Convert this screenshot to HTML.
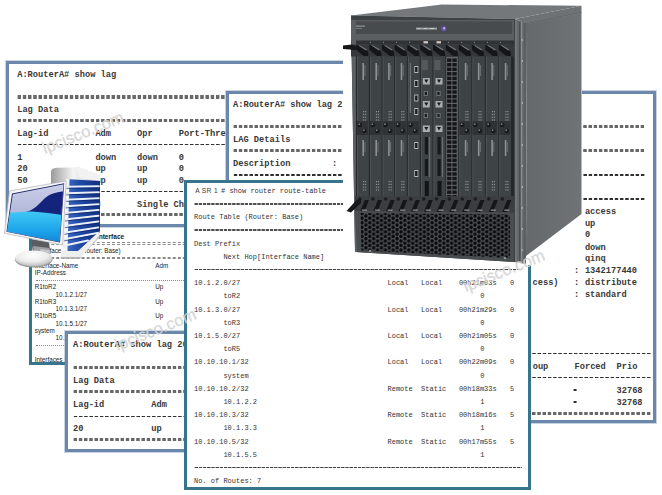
<!DOCTYPE html>
<html><head><meta charset="utf-8">
<style>
html,body{margin:0;padding:0;width:662px;height:495px;overflow:hidden;background:#fff}
body{position:relative}
.w{position:absolute;background:#fff;box-sizing:border-box;overflow:hidden}
.b1{border:3px solid #6b87ab;box-shadow:0 0 0 1px rgba(107,135,171,0.35)}
pre{margin:0;position:absolute;white-space:pre}
.m1{font-family:"Liberation Mono",monospace;font-size:8.7px;line-height:11.8px;color:#383838;font-weight:bold}
.m2{font-family:"Liberation Mono",monospace;font-size:8.7px;line-height:11.94px;color:#383838;font-weight:bold}
.m3{font-family:"Liberation Mono",monospace;font-size:7px;line-height:13.2px;color:#333}
.s{position:absolute;white-space:pre;font-family:"Liberation Sans",sans-serif;font-size:6.3px;line-height:7.24px;color:#222}
.a{position:absolute;white-space:pre}
.e1{display:inline-block;height:3.1px;vertical-align:2.1px;background:linear-gradient(90deg,#686868 0 3.8px,transparent 3.8px) 0.6px 0/5.22px 100% repeat-x}
.d1{display:inline-block;height:1.3px;vertical-align:2.5px;background:linear-gradient(90deg,#303030 0 3.6px,transparent 3.6px) 0.8px 0/5.22px 100% repeat-x}
.e3{display:inline-block;height:1.8px;vertical-align:1.4px;background:linear-gradient(90deg,#505050 0 3.2px,transparent 3.2px) 0.5px 0/4.2px 100% repeat-x}
.d3{display:inline-block;height:1px;vertical-align:2.4px;background:linear-gradient(90deg,#404040 0 3px,transparent 3px) 0.6px 0/4.2px 100% repeat-x}

.dd{position:absolute;height:0;border-top:1px dashed #777}
svg{position:absolute;left:0;top:0}
</style></head><body>

<!-- window 5 (sans small) -->
<div class="w" style="left:29px;top:215px;width:158px;height:150px;border:3px solid #37758c;">
<div class="s" style="left:64.8px;top:14.8px;font-weight:bold;font-size:6.6px">Interface</div>
<div style="position:absolute;left:3.5px;top:24.1px;width:160px;height:2.6px;border-top:1px dashed #8a8a8a;border-bottom:1px dashed #8a8a8a;box-sizing:border-box"></div>
<div class="s" style="left:4.8px;top:29.3px;">Interface Table (Router: Base)</div>
<div style="position:absolute;left:3.5px;top:38.9px;width:160px;height:2.6px;border-top:1px dashed #8a8a8a;border-bottom:1px dashed #8a8a8a;box-sizing:border-box"></div>
<div class="s" style="left:2.8px;top:43.8px;">Interface-Name</div>
<div class="s" style="left:123.3px;top:43.8px;">Adm</div>
<div class="s" style="left:2.8px;top:50.8px;">IP-Address</div>
<div style="position:absolute;left:3.5px;top:61.6px;width:160px;height:0;border-top:1px dotted #8a8a8a"></div>
<div class="s" style="left:2.8px;top:65.2px;">R1toR2</div>
<div class="s" style="left:123.3px;top:65.2px;">Up</div>
<div class="s" style="left:23.6px;top:72.5px;">10.1.2.1/27</div>
<div class="s" style="left:2.8px;top:79.9px;">R1toR3</div>
<div class="s" style="left:123.3px;top:79.9px;">Up</div>
<div class="s" style="left:23.6px;top:87.1px;">10.1.3.1/27</div>
<div class="s" style="left:2.8px;top:94.2px;">R1toR5</div>
<div class="s" style="left:123.3px;top:94.2px;">Up</div>
<div class="s" style="left:23.6px;top:101.5px;">10.1.5.1/27</div>
<div class="s" style="left:2.8px;top:108.7px;">system</div>
<div class="s" style="left:23.6px;top:116.0px;">10.10.10.1/32</div>
<div style="position:absolute;left:3.5px;top:126.5px;width:160px;height:0;border-top:1px dotted #8a8a8a"></div>
<div class="s" style="left:2.8px;top:137.7px;">Interfaces : 4</div>
</div>

<!-- window 1 -->
<div class="w b1" style="left:6px;top:61px;width:344px;height:166px;">
<pre class="m1" style="left:8.2px;top:6px">A:RouterA# show lag

<span class="e1" style="width:302.8px"></span>
Lag Data
<span class="e1" style="width:302.8px"></span>
Lag-id         Adm     Opr     Port-Threshold  Up-Link-Count
<span class="d1" style="width:302.8px"></span>
1              down    down    0               0
20             up      up      0               2
50             up      up      0               1
<span class="d1" style="width:302.8px"></span>
Total Lag-ids: 3       Single Chassis: 3   MC Act: 0
<span class="e1" style="width:302.8px"></span></pre>
</div>

<!-- window 2 -->
<div class="w b1" style="left:226px;top:91px;width:430px;height:332px;">
<pre class="m2" style="left:4px;top:5.5px">A:RouterA# show lag 2

<span class="e1" style="width:412.4px"></span>
LAG Details
<span class="e1" style="width:412.4px"></span>
Description        :
<span class="d1" style="width:412.4px"></span>
Details
<span class="d1" style="width:412.4px"></span></pre>
<pre class="m2" style="left:355.9px;top:113.1px">access</pre>
<pre class="m2" style="left:355.9px;top:124.9px">up</pre>
<pre class="m2" style="left:355.9px;top:136.4px">0</pre>
<pre class="m2" style="left:355.9px;top:148.7px">down</pre>
<pre class="m2" style="left:355.9px;top:160.4px">qinq</pre>
<pre class="m2" style="left:345.1px;top:172.0px">:</pre>
<pre class="m2" style="left:355.9px;top:172.0px">1342177440</pre>
<pre class="m2" style="left:303.5px;top:184.2px">cess)</pre>
<pre class="m2" style="left:345.1px;top:184.2px">:</pre>
<pre class="m2" style="left:355.9px;top:184.2px">distribute</pre>
<pre class="m2" style="left:345.1px;top:196.0px">:</pre>
<pre class="m2" style="left:355.9px;top:196.0px">standard</pre>
<pre class="m2" style="left:4.5px;top:255.8px"><span class="d1" style="width:417.6px"></span></pre>
<pre class="m2" style="left:303.7px;top:268.2px">oup</pre>
<pre class="m2" style="left:345.5px;top:268.2px">Forced</pre>
<pre class="m2" style="left:387.5px;top:268.2px">Prio</pre>
<pre class="m2" style="left:4.5px;top:279.6px"><span class="d1" style="width:417.6px"></span></pre>
<pre class="m2" style="left:344.2px;top:292.0px"><span class="d1" style="width:5.22px"></span></pre>
<pre class="m2" style="left:387.5px;top:292.0px">32768</pre>
<pre class="m2" style="left:344.2px;top:304.0px"><span class="d1" style="width:5.22px"></span></pre>
<pre class="m2" style="left:387.5px;top:304.0px">32768</pre>
<pre class="m2" style="left:4.5px;top:315.8px"><span class="e1" style="width:417.6px"></span></pre>
</div>

<!-- window 4 -->
<div class="w b1" style="left:65px;top:331px;width:140px;height:121px;">
<pre class="m2" style="left:5px;top:5.4px;line-height:12px">A:RouterA# show lag 20

<span class="e1" style="width:167.0px"></span>
Lag Data
<span class="e1" style="width:167.0px"></span>
Lag-id         Adm
<span class="d1" style="width:167.0px"></span>
20             up
<span class="e1" style="width:167.0px"></span></pre>
</div>

<!-- window 3 ASR1 -->
<div class="w" style="left:184px;top:180px;width:347px;height:310px;border:3px solid #37758c;">
<div class="a" style="left:8.3px;top:0.9px;font-family:'Liberation Sans',sans-serif;font-size:6.6px;line-height:13.2px;color:#3a3a3a;letter-spacing:0.35px">A SR 1</div>
<pre class="m3" style="left:34px;top:1.7px"># show router route-table</pre>
<pre class="m3" style="left:7px;top:1.7px"> 
<span class="e3" style="width:327.6px"></span>
Route Table (Router: Base)
<span class="e3" style="width:327.6px"></span>
Dest Prefix
       Next Hop[Interface Name]
<span class="d3" style="width:327.6px"></span>
10.1.2.0/27
       toR2
10.1.3.0/27
       toR3
10.1.5.0/27
       toR5
10.10.10.1/32
       system
10.10.10.2/32
       10.1.2.2
10.10.10.3/32
       10.1.3.3
10.10.10.5/32
       10.1.5.5
<span class="d3" style="width:327.6px"></span>
No. of Routes: 7</pre>
<pre class="m3" style="left:200.5px;top:94.1px">Local   Local    00h21m03s
           
Local   Local    00h21m29s
           
Local   Local    00h21m05s
           
Local   Local    00h22m09s
           
Remote  Static   00h18m33s
           
Remote  Static   00h18m16s
           
Remote  Static   00h17m55s</pre>
<pre class="m3" style="left:323px;top:94.1px">0

0

0

0

5

5

5</pre>
<pre class="m3" style="left:293.3px;top:107.3px">0

0

0

0

1

1

1</pre>
</div>

<svg width="662" height="495" viewBox="0 0 662 495">
<defs>
 <pattern id="hex" x="360" y="212.5" width="7.8" height="4.55" patternUnits="userSpaceOnUse">
  <rect width="7.8" height="4.55" fill="#505356"/>
  <circle cx="1.95" cy="1.14" r="1.72" fill="#08090a"/>
  <circle cx="5.85" cy="3.41" r="1.72" fill="#08090a"/>
  <circle cx="5.85" cy="-1.14" r="1.72" fill="#08090a"/>
  <circle cx="1.95" cy="5.69" r="1.72" fill="#08090a"/>
 </pattern>
 <linearGradient id="capG" x1="0" x2="1" y1="0" y2="0"><stop offset="0" stop-color="#9a9a9a"/><stop offset="0.45" stop-color="#f4f4f4"/><stop offset="1" stop-color="#c8c8c8"/></linearGradient>
 <linearGradient id="towB" x1="0" x2="1" y1="0" y2="0"><stop offset="0" stop-color="#3d68c2"/><stop offset="0.35" stop-color="#1f4aa6"/><stop offset="1" stop-color="#12307e"/></linearGradient>
 <linearGradient id="scrTop" x1="0" y1="0" x2="0" y2="1"><stop offset="0" stop-color="#cdd1ea"/><stop offset="1" stop-color="#959dcc"/></linearGradient>
 <linearGradient id="scrCy" x1="0" y1="0" x2="0" y2="1"><stop offset="0" stop-color="#40c8f6"/><stop offset="0.5" stop-color="#1ca4ea"/><stop offset="0.85" stop-color="#1280d4"/><stop offset="1" stop-color="#0a56b0"/></linearGradient>
 <radialGradient id="baseG" cx="0.45" cy="0.3" r="0.7"><stop offset="0" stop-color="#ffffff"/><stop offset="0.6" stop-color="#ececec"/><stop offset="1" stop-color="#bcbcbc"/></radialGradient>
 <clipPath id="scr"><polygon points="12.8,194.3 63.6,184.2 59.4,241.7 7.2,231.4"/></clipPath>
</defs>

<!-- ROUTER -->
<rect x="343" y="0" width="239" height="265" fill="#fff"/>
<polygon points="351,15.5 442,4.5 581.5,5.8 515,19" fill="#74787b"/>
<polygon points="351,15.5 515,19 515,21.3 351,19.8" fill="#7f8386"/>
<polygon points="515,19 581.5,5.8 581.5,12.5 527,24" fill="#6e7275"/>
<polyline points="514,19.5 527,24 581.5,12.5" fill="none" stroke="#4a4e51" stroke-width="0.8"/>
<defs><linearGradient id="sideG" x1="0" x2="1" y1="0" y2="0"><stop offset="0" stop-color="#65696c"/><stop offset="1" stop-color="#6f7376"/></linearGradient></defs>
<polygon points="527,24 581.5,12.5 581.5,214 526,256" fill="url(#sideG)"/>
<polygon points="514,19 527,24 526,264 514,262" fill="#63676a"/>
<rect x="515.5" y="21" width="1" height="241" fill="#808487"/>
<rect x="519" y="22" width="1.3" height="240" fill="#4a4e51"/>
<rect x="521" y="22" width="1.2" height="240" fill="#8a8e91"/>
<rect x="524.5" y="23" width="1" height="239" fill="#55595c"/>
<circle cx="522.3" cy="40" r="0.8" fill="#c4c8cb"/>
<circle cx="522.3" cy="61" r="0.8" fill="#c4c8cb"/>
<circle cx="522.3" cy="82" r="0.8" fill="#c4c8cb"/>
<circle cx="522.3" cy="103" r="0.8" fill="#c4c8cb"/>
<circle cx="522.3" cy="124" r="0.8" fill="#c4c8cb"/>
<circle cx="522.3" cy="145" r="0.8" fill="#c4c8cb"/>
<circle cx="522.3" cy="166" r="0.8" fill="#c4c8cb"/>
<circle cx="522.3" cy="187" r="0.8" fill="#c4c8cb"/>
<circle cx="522.3" cy="208" r="0.8" fill="#c4c8cb"/>
<circle cx="522.3" cy="229" r="0.8" fill="#c4c8cb"/>
<circle cx="522.3" cy="250" r="0.8" fill="#c4c8cb"/>
<polygon points="351,15.5 515,19 515,262 355,252" fill="#3d4244"/>
<rect x="351" y="20" width="163" height="21" fill="#585c5f"/>
<rect x="353" y="21.5" width="159" height="12.5" fill="#474b4e"/>
<rect x="356" y="25.5" width="9" height="1.3" fill="#8e9295"/>
<rect x="356" y="28" width="6" height="0.7" fill="#868a8d"/>
<rect x="416" y="27.6" width="21" height="2" fill="#9fa3a7"/><rect x="418" y="28.2" width="2" height="0.8" fill="#d0d3d6"/><rect x="424" y="28.2" width="3" height="0.8" fill="#d0d3d6"/><rect x="430" y="28.2" width="4" height="0.8" fill="#d0d3d6"/>
<circle cx="443.8" cy="28.6" r="2.6" fill="#6a52ae"/>
<circle cx="444.2" cy="28.3" r="1.1" fill="#c8c0ea"/>
<rect x="351" y="34" width="163" height="6.5" fill="#5b5f62"/>
<rect x="351" y="40.5" width="163" height="4" fill="#303335"/>
<rect x="423.5" y="41.2" width="4.5" height="2.2" fill="#d9c7c2"/>
<rect x="436.5" y="41.2" width="4.5" height="2.2" fill="#d9c7c2"/>
<rect x="370" y="41.8" width="1" height="1" fill="#8a8e91"/>
<rect x="383" y="41.8" width="1" height="1" fill="#8a8e91"/>
<rect x="396" y="41.8" width="1" height="1" fill="#8a8e91"/>
<rect x="409" y="41.8" width="1" height="1" fill="#8a8e91"/>
<rect x="448" y="41.8" width="1" height="1" fill="#8a8e91"/>
<rect x="461" y="41.8" width="1" height="1" fill="#8a8e91"/>
<rect x="474" y="41.8" width="1" height="1" fill="#8a8e91"/>
<rect x="487" y="41.8" width="1" height="1" fill="#8a8e91"/>
<rect x="500" y="41.8" width="1" height="1" fill="#8a8e91"/>
<polygon points="351,19.8 355.8,20 357.5,252 355,252" fill="#5c6063"/>
<rect x="356" y="44.5" width="158" height="153" fill="#3e4346"/>
<rect x="355.9" y="44.5" width="1.1" height="153" fill="#25282a"/>
<rect x="357.0" y="44.5" width="0.8" height="153" fill="#53575a"/>
<rect x="368.9" y="44.5" width="1.1" height="153" fill="#25282a"/>
<rect x="370.0" y="44.5" width="0.8" height="153" fill="#53575a"/>
<rect x="381.6" y="44.5" width="1.1" height="153" fill="#25282a"/>
<rect x="382.7" y="44.5" width="0.8" height="153" fill="#53575a"/>
<rect x="394.2" y="44.5" width="1.1" height="153" fill="#25282a"/>
<rect x="395.3" y="44.5" width="0.8" height="153" fill="#53575a"/>
<rect x="406.8" y="44.5" width="1.1" height="153" fill="#25282a"/>
<rect x="407.9" y="44.5" width="0.8" height="153" fill="#53575a"/>
<rect x="419.8" y="44.5" width="1.1" height="153" fill="#25282a"/>
<rect x="420.9" y="44.5" width="0.8" height="153" fill="#53575a"/>
<rect x="432.5" y="44.5" width="1.1" height="153" fill="#25282a"/>
<rect x="433.6" y="44.5" width="0.8" height="153" fill="#53575a"/>
<rect x="445.3" y="44.5" width="1.1" height="153" fill="#25282a"/>
<rect x="446.4" y="44.5" width="0.8" height="153" fill="#53575a"/>
<rect x="458.3" y="44.5" width="1.1" height="153" fill="#25282a"/>
<rect x="459.4" y="44.5" width="0.8" height="153" fill="#53575a"/>
<rect x="471.4" y="44.5" width="1.1" height="153" fill="#25282a"/>
<rect x="472.5" y="44.5" width="0.8" height="153" fill="#53575a"/>
<rect x="484.8" y="44.5" width="1.1" height="153" fill="#25282a"/>
<rect x="485.9" y="44.5" width="0.8" height="153" fill="#53575a"/>
<rect x="498.3" y="44.5" width="1.1" height="153" fill="#25282a"/>
<rect x="499.4" y="44.5" width="0.8" height="153" fill="#53575a"/>
<rect x="511.0" y="44.5" width="3.0" height="153" fill="#25282a"/>
<rect x="351" y="44.5" width="163" height="12" fill="#36393c"/>
<path d="M343,45.5 L352,44.5 L357,47 L356,50 L343,49 Z" fill="#151719"/>
<path d="M356.4,45 L360.9,45 L368.4,52 L368.4,56 L363.9,56 L356.4,50 Z" fill="#141618"/>
<path d="M357.9,45.3 L360.4,45.3 L366.9,49.5 L365.9,50.5 Z" fill="#707478"/>
<path d="M369.4,45 L373.9,45 L381.4,52 L381.4,56 L376.9,56 L369.4,50 Z" fill="#141618"/>
<path d="M370.9,45.3 L373.4,45.3 L379.9,49.5 L378.9,50.5 Z" fill="#707478"/>
<path d="M382.1,45 L386.6,45 L394.1,52 L394.1,56 L389.6,56 L382.1,50 Z" fill="#141618"/>
<path d="M383.6,45.3 L386.1,45.3 L392.6,49.5 L391.6,50.5 Z" fill="#707478"/>
<path d="M394.7,45 L399.2,45 L406.7,52 L406.7,56 L402.2,56 L394.7,50 Z" fill="#141618"/>
<path d="M396.2,45.3 L398.7,45.3 L405.2,49.5 L404.2,50.5 Z" fill="#707478"/>
<path d="M407.3,45 L411.8,45 L419.3,52 L419.3,56 L414.8,56 L407.3,50 Z" fill="#141618"/>
<path d="M408.8,45.3 L411.3,45.3 L417.8,49.5 L416.8,50.5 Z" fill="#707478"/>
<path d="M420.3,45 L424.8,45 L432.3,52 L432.3,56 L427.8,56 L420.3,50 Z" fill="#141618"/>
<path d="M421.8,45.3 L424.3,45.3 L430.8,49.5 L429.8,50.5 Z" fill="#707478"/>
<path d="M433.0,45 L437.5,45 L445.0,52 L445.0,56 L440.5,56 L433.0,50 Z" fill="#141618"/>
<path d="M434.5,45.3 L437.0,45.3 L443.5,49.5 L442.5,50.5 Z" fill="#707478"/>
<path d="M445.8,45 L450.3,45 L457.8,52 L457.8,56 L453.3,56 L445.8,50 Z" fill="#141618"/>
<path d="M447.3,45.3 L449.8,45.3 L456.3,49.5 L455.3,50.5 Z" fill="#707478"/>
<path d="M458.8,45 L463.3,45 L470.8,52 L470.8,56 L466.3,56 L458.8,50 Z" fill="#141618"/>
<path d="M460.3,45.3 L462.8,45.3 L469.3,49.5 L468.3,50.5 Z" fill="#707478"/>
<path d="M471.9,45 L476.4,45 L483.9,52 L483.9,56 L479.4,56 L471.9,50 Z" fill="#141618"/>
<path d="M473.4,45.3 L475.9,45.3 L482.4,49.5 L481.4,50.5 Z" fill="#707478"/>
<path d="M485.3,45 L489.8,45 L497.3,52 L497.3,56 L492.8,56 L485.3,50 Z" fill="#141618"/>
<path d="M486.8,45.3 L489.3,45.3 L495.8,49.5 L494.8,50.5 Z" fill="#707478"/>
<path d="M498.8,45 L503.3,45 L510.8,52 L510.8,56 L506.3,56 L498.8,50 Z" fill="#141618"/>
<path d="M500.3,45.3 L502.8,45.3 L509.3,49.5 L508.3,50.5 Z" fill="#707478"/>
<rect x="362.4" y="63" width="1.6" height="17" fill="#8d9194"/>
<rect x="364.5" y="65" width="0.9" height="11" fill="#6e7275"/>
<rect x="362.4" y="140" width="1.6" height="16" fill="#8d9194"/>
<rect x="364.5" y="142" width="0.9" height="10" fill="#6e7275"/>
<rect x="362.9" y="111.0" width="1.2" height="1.2" fill="#8c9094"/>
<rect x="364.9" y="111.0" width="1.2" height="1.2" fill="#8c9094"/>
<rect x="362.9" y="113.8" width="1.2" height="1.2" fill="#8c9094"/>
<rect x="364.9" y="113.8" width="1.2" height="1.2" fill="#8c9094"/>
<rect x="362.9" y="116.6" width="1.2" height="1.2" fill="#8c9094"/>
<rect x="364.9" y="116.6" width="1.2" height="1.2" fill="#8c9094"/>
<rect x="362.9" y="119.4" width="1.2" height="1.2" fill="#8c9094"/>
<rect x="364.9" y="119.4" width="1.2" height="1.2" fill="#8c9094"/>
<rect x="362.9" y="181.0" width="1.2" height="1.2" fill="#8c9094"/>
<rect x="364.9" y="181.0" width="1.2" height="1.2" fill="#8c9094"/>
<rect x="362.9" y="183.8" width="1.2" height="1.2" fill="#8c9094"/>
<rect x="364.9" y="183.8" width="1.2" height="1.2" fill="#8c9094"/>
<rect x="362.9" y="186.6" width="1.2" height="1.2" fill="#8c9094"/>
<rect x="364.9" y="186.6" width="1.2" height="1.2" fill="#8c9094"/>
<rect x="362.9" y="189.4" width="1.2" height="1.2" fill="#8c9094"/>
<rect x="364.9" y="189.4" width="1.2" height="1.2" fill="#8c9094"/>
<rect x="375.4" y="63" width="1.6" height="17" fill="#8d9194"/>
<rect x="377.5" y="65" width="0.9" height="11" fill="#6e7275"/>
<rect x="375.4" y="140" width="1.6" height="16" fill="#8d9194"/>
<rect x="377.5" y="142" width="0.9" height="10" fill="#6e7275"/>
<rect x="375.9" y="111.0" width="1.2" height="1.2" fill="#8c9094"/>
<rect x="377.9" y="111.0" width="1.2" height="1.2" fill="#8c9094"/>
<rect x="375.9" y="113.8" width="1.2" height="1.2" fill="#8c9094"/>
<rect x="377.9" y="113.8" width="1.2" height="1.2" fill="#8c9094"/>
<rect x="375.9" y="116.6" width="1.2" height="1.2" fill="#8c9094"/>
<rect x="377.9" y="116.6" width="1.2" height="1.2" fill="#8c9094"/>
<rect x="375.9" y="119.4" width="1.2" height="1.2" fill="#8c9094"/>
<rect x="377.9" y="119.4" width="1.2" height="1.2" fill="#8c9094"/>
<rect x="375.9" y="181.0" width="1.2" height="1.2" fill="#8c9094"/>
<rect x="377.9" y="181.0" width="1.2" height="1.2" fill="#8c9094"/>
<rect x="375.9" y="183.8" width="1.2" height="1.2" fill="#8c9094"/>
<rect x="377.9" y="183.8" width="1.2" height="1.2" fill="#8c9094"/>
<rect x="375.9" y="186.6" width="1.2" height="1.2" fill="#8c9094"/>
<rect x="377.9" y="186.6" width="1.2" height="1.2" fill="#8c9094"/>
<rect x="375.9" y="189.4" width="1.2" height="1.2" fill="#8c9094"/>
<rect x="377.9" y="189.4" width="1.2" height="1.2" fill="#8c9094"/>
<rect x="388.1" y="63" width="1.6" height="17" fill="#8d9194"/>
<rect x="390.2" y="65" width="0.9" height="11" fill="#6e7275"/>
<rect x="388.1" y="140" width="1.6" height="16" fill="#8d9194"/>
<rect x="390.2" y="142" width="0.9" height="10" fill="#6e7275"/>
<rect x="388.6" y="111.0" width="1.2" height="1.2" fill="#8c9094"/>
<rect x="390.6" y="111.0" width="1.2" height="1.2" fill="#8c9094"/>
<rect x="388.6" y="113.8" width="1.2" height="1.2" fill="#8c9094"/>
<rect x="390.6" y="113.8" width="1.2" height="1.2" fill="#8c9094"/>
<rect x="388.6" y="116.6" width="1.2" height="1.2" fill="#8c9094"/>
<rect x="390.6" y="116.6" width="1.2" height="1.2" fill="#8c9094"/>
<rect x="388.6" y="119.4" width="1.2" height="1.2" fill="#8c9094"/>
<rect x="390.6" y="119.4" width="1.2" height="1.2" fill="#8c9094"/>
<rect x="388.6" y="181.0" width="1.2" height="1.2" fill="#8c9094"/>
<rect x="390.6" y="181.0" width="1.2" height="1.2" fill="#8c9094"/>
<rect x="388.6" y="183.8" width="1.2" height="1.2" fill="#8c9094"/>
<rect x="390.6" y="183.8" width="1.2" height="1.2" fill="#8c9094"/>
<rect x="388.6" y="186.6" width="1.2" height="1.2" fill="#8c9094"/>
<rect x="390.6" y="186.6" width="1.2" height="1.2" fill="#8c9094"/>
<rect x="388.6" y="189.4" width="1.2" height="1.2" fill="#8c9094"/>
<rect x="390.6" y="189.4" width="1.2" height="1.2" fill="#8c9094"/>
<rect x="400.7" y="63" width="1.6" height="17" fill="#8d9194"/>
<rect x="402.8" y="65" width="0.9" height="11" fill="#6e7275"/>
<rect x="400.7" y="140" width="1.6" height="16" fill="#8d9194"/>
<rect x="402.8" y="142" width="0.9" height="10" fill="#6e7275"/>
<rect x="401.2" y="111.0" width="1.2" height="1.2" fill="#8c9094"/>
<rect x="403.2" y="111.0" width="1.2" height="1.2" fill="#8c9094"/>
<rect x="401.2" y="113.8" width="1.2" height="1.2" fill="#8c9094"/>
<rect x="403.2" y="113.8" width="1.2" height="1.2" fill="#8c9094"/>
<rect x="401.2" y="116.6" width="1.2" height="1.2" fill="#8c9094"/>
<rect x="403.2" y="116.6" width="1.2" height="1.2" fill="#8c9094"/>
<rect x="401.2" y="119.4" width="1.2" height="1.2" fill="#8c9094"/>
<rect x="403.2" y="119.4" width="1.2" height="1.2" fill="#8c9094"/>
<rect x="401.2" y="181.0" width="1.2" height="1.2" fill="#8c9094"/>
<rect x="403.2" y="181.0" width="1.2" height="1.2" fill="#8c9094"/>
<rect x="401.2" y="183.8" width="1.2" height="1.2" fill="#8c9094"/>
<rect x="403.2" y="183.8" width="1.2" height="1.2" fill="#8c9094"/>
<rect x="401.2" y="186.6" width="1.2" height="1.2" fill="#8c9094"/>
<rect x="403.2" y="186.6" width="1.2" height="1.2" fill="#8c9094"/>
<rect x="401.2" y="189.4" width="1.2" height="1.2" fill="#8c9094"/>
<rect x="403.2" y="189.4" width="1.2" height="1.2" fill="#8c9094"/>
<rect x="464.8" y="63" width="1.6" height="17" fill="#8d9194"/>
<rect x="466.9" y="65" width="0.9" height="11" fill="#6e7275"/>
<rect x="464.8" y="140" width="1.6" height="16" fill="#8d9194"/>
<rect x="466.9" y="142" width="0.9" height="10" fill="#6e7275"/>
<rect x="465.3" y="111.0" width="1.2" height="1.2" fill="#8c9094"/>
<rect x="467.3" y="111.0" width="1.2" height="1.2" fill="#8c9094"/>
<rect x="465.3" y="113.8" width="1.2" height="1.2" fill="#8c9094"/>
<rect x="467.3" y="113.8" width="1.2" height="1.2" fill="#8c9094"/>
<rect x="465.3" y="116.6" width="1.2" height="1.2" fill="#8c9094"/>
<rect x="467.3" y="116.6" width="1.2" height="1.2" fill="#8c9094"/>
<rect x="465.3" y="119.4" width="1.2" height="1.2" fill="#8c9094"/>
<rect x="467.3" y="119.4" width="1.2" height="1.2" fill="#8c9094"/>
<rect x="465.3" y="181.0" width="1.2" height="1.2" fill="#8c9094"/>
<rect x="467.3" y="181.0" width="1.2" height="1.2" fill="#8c9094"/>
<rect x="465.3" y="183.8" width="1.2" height="1.2" fill="#8c9094"/>
<rect x="467.3" y="183.8" width="1.2" height="1.2" fill="#8c9094"/>
<rect x="465.3" y="186.6" width="1.2" height="1.2" fill="#8c9094"/>
<rect x="467.3" y="186.6" width="1.2" height="1.2" fill="#8c9094"/>
<rect x="465.3" y="189.4" width="1.2" height="1.2" fill="#8c9094"/>
<rect x="467.3" y="189.4" width="1.2" height="1.2" fill="#8c9094"/>
<rect x="477.9" y="63" width="1.6" height="17" fill="#8d9194"/>
<rect x="480.0" y="65" width="0.9" height="11" fill="#6e7275"/>
<rect x="477.9" y="140" width="1.6" height="16" fill="#8d9194"/>
<rect x="480.0" y="142" width="0.9" height="10" fill="#6e7275"/>
<rect x="478.4" y="111.0" width="1.2" height="1.2" fill="#8c9094"/>
<rect x="480.4" y="111.0" width="1.2" height="1.2" fill="#8c9094"/>
<rect x="478.4" y="113.8" width="1.2" height="1.2" fill="#8c9094"/>
<rect x="480.4" y="113.8" width="1.2" height="1.2" fill="#8c9094"/>
<rect x="478.4" y="116.6" width="1.2" height="1.2" fill="#8c9094"/>
<rect x="480.4" y="116.6" width="1.2" height="1.2" fill="#8c9094"/>
<rect x="478.4" y="119.4" width="1.2" height="1.2" fill="#8c9094"/>
<rect x="480.4" y="119.4" width="1.2" height="1.2" fill="#8c9094"/>
<rect x="478.4" y="181.0" width="1.2" height="1.2" fill="#8c9094"/>
<rect x="480.4" y="181.0" width="1.2" height="1.2" fill="#8c9094"/>
<rect x="478.4" y="183.8" width="1.2" height="1.2" fill="#8c9094"/>
<rect x="480.4" y="183.8" width="1.2" height="1.2" fill="#8c9094"/>
<rect x="478.4" y="186.6" width="1.2" height="1.2" fill="#8c9094"/>
<rect x="480.4" y="186.6" width="1.2" height="1.2" fill="#8c9094"/>
<rect x="478.4" y="189.4" width="1.2" height="1.2" fill="#8c9094"/>
<rect x="480.4" y="189.4" width="1.2" height="1.2" fill="#8c9094"/>
<rect x="491.3" y="63" width="1.6" height="17" fill="#8d9194"/>
<rect x="493.4" y="65" width="0.9" height="11" fill="#6e7275"/>
<rect x="491.3" y="140" width="1.6" height="16" fill="#8d9194"/>
<rect x="493.4" y="142" width="0.9" height="10" fill="#6e7275"/>
<rect x="491.8" y="111.0" width="1.2" height="1.2" fill="#8c9094"/>
<rect x="493.8" y="111.0" width="1.2" height="1.2" fill="#8c9094"/>
<rect x="491.8" y="113.8" width="1.2" height="1.2" fill="#8c9094"/>
<rect x="493.8" y="113.8" width="1.2" height="1.2" fill="#8c9094"/>
<rect x="491.8" y="116.6" width="1.2" height="1.2" fill="#8c9094"/>
<rect x="493.8" y="116.6" width="1.2" height="1.2" fill="#8c9094"/>
<rect x="491.8" y="119.4" width="1.2" height="1.2" fill="#8c9094"/>
<rect x="493.8" y="119.4" width="1.2" height="1.2" fill="#8c9094"/>
<rect x="491.8" y="181.0" width="1.2" height="1.2" fill="#8c9094"/>
<rect x="493.8" y="181.0" width="1.2" height="1.2" fill="#8c9094"/>
<rect x="491.8" y="183.8" width="1.2" height="1.2" fill="#8c9094"/>
<rect x="493.8" y="183.8" width="1.2" height="1.2" fill="#8c9094"/>
<rect x="491.8" y="186.6" width="1.2" height="1.2" fill="#8c9094"/>
<rect x="493.8" y="186.6" width="1.2" height="1.2" fill="#8c9094"/>
<rect x="491.8" y="189.4" width="1.2" height="1.2" fill="#8c9094"/>
<rect x="493.8" y="189.4" width="1.2" height="1.2" fill="#8c9094"/>
<rect x="504.8" y="63" width="1.6" height="17" fill="#8d9194"/>
<rect x="506.9" y="65" width="0.9" height="11" fill="#6e7275"/>
<rect x="504.8" y="140" width="1.6" height="16" fill="#8d9194"/>
<rect x="506.9" y="142" width="0.9" height="10" fill="#6e7275"/>
<rect x="505.3" y="111.0" width="1.2" height="1.2" fill="#8c9094"/>
<rect x="507.3" y="111.0" width="1.2" height="1.2" fill="#8c9094"/>
<rect x="505.3" y="113.8" width="1.2" height="1.2" fill="#8c9094"/>
<rect x="507.3" y="113.8" width="1.2" height="1.2" fill="#8c9094"/>
<rect x="505.3" y="116.6" width="1.2" height="1.2" fill="#8c9094"/>
<rect x="507.3" y="116.6" width="1.2" height="1.2" fill="#8c9094"/>
<rect x="505.3" y="119.4" width="1.2" height="1.2" fill="#8c9094"/>
<rect x="507.3" y="119.4" width="1.2" height="1.2" fill="#8c9094"/>
<rect x="505.3" y="181.0" width="1.2" height="1.2" fill="#8c9094"/>
<rect x="507.3" y="181.0" width="1.2" height="1.2" fill="#8c9094"/>
<rect x="505.3" y="183.8" width="1.2" height="1.2" fill="#8c9094"/>
<rect x="507.3" y="183.8" width="1.2" height="1.2" fill="#8c9094"/>
<rect x="505.3" y="186.6" width="1.2" height="1.2" fill="#8c9094"/>
<rect x="507.3" y="186.6" width="1.2" height="1.2" fill="#8c9094"/>
<rect x="505.3" y="189.4" width="1.2" height="1.2" fill="#8c9094"/>
<rect x="507.3" y="189.4" width="1.2" height="1.2" fill="#8c9094"/>
<rect x="414.3" y="66.0" width="4" height="7" fill="#b4b8bb"/>
<rect x="415.1" y="67.0" width="2.4" height="5" fill="#1a1c1e"/>
<rect x="414.3" y="80.0" width="4" height="7" fill="#b4b8bb"/>
<rect x="415.1" y="81.0" width="2.4" height="5" fill="#1a1c1e"/>
<rect x="414.3" y="94.5" width="4" height="7" fill="#b4b8bb"/>
<rect x="415.1" y="95.5" width="2.4" height="5" fill="#1a1c1e"/>
<rect x="414.3" y="108.0" width="4" height="7" fill="#b4b8bb"/>
<rect x="415.1" y="109.0" width="2.4" height="5" fill="#1a1c1e"/>
<rect x="414.3" y="142.0" width="4" height="7" fill="#b4b8bb"/>
<rect x="415.1" y="143.0" width="2.4" height="5" fill="#1a1c1e"/>
<rect x="414.3" y="170.0" width="4" height="7" fill="#b4b8bb"/>
<rect x="415.1" y="171.0" width="2.4" height="5" fill="#1a1c1e"/>
<rect x="409.8" y="63" width="1.2" height="50" fill="#6e7275"/>
<rect x="421.8" y="60" width="6" height="10" fill="#55595c"/>
<rect x="422.8" y="78.0" width="7" height="6.5" fill="#a9adb0"/>
<path d="M424.3,79.5 l4,0 l-2,3.5 Z" fill="#17191b"/>
<rect x="422.8" y="101.0" width="7" height="6.5" fill="#a9adb0"/>
<path d="M424.3,102.5 l4,0 l-2,3.5 Z" fill="#17191b"/>
<rect x="422.8" y="125.5" width="7" height="6.5" fill="#a9adb0"/>
<path d="M424.3,127.0 l4,0 l-2,3.5 Z" fill="#17191b"/>
<rect x="423.8" y="91.0" width="4" height="5" fill="#7d8184"/>
<rect x="424.6" y="91.8" width="2.4" height="3.4" fill="#1a1c1e"/>
<rect x="423.8" y="113.0" width="4" height="5" fill="#7d8184"/>
<rect x="424.6" y="113.8" width="2.4" height="3.4" fill="#1a1c1e"/>
<rect x="424.8" y="137" width="3.2" height="17.5" fill="#17191b"/>
<rect x="424.8" y="159" width="3.2" height="17" fill="#17191b"/>
<rect x="424.8" y="181" width="4" height="17" fill="#121416"/>
<rect x="429.3" y="137" width="0.8" height="40" fill="#7c8083"/>
<rect x="434.5" y="60" width="6" height="10" fill="#55595c"/>
<rect x="435.5" y="78.0" width="7" height="6.5" fill="#a9adb0"/>
<path d="M437.0,79.5 l4,0 l-2,3.5 Z" fill="#17191b"/>
<rect x="435.5" y="101.0" width="7" height="6.5" fill="#a9adb0"/>
<path d="M437.0,102.5 l4,0 l-2,3.5 Z" fill="#17191b"/>
<rect x="435.5" y="125.5" width="7" height="6.5" fill="#a9adb0"/>
<path d="M437.0,127.0 l4,0 l-2,3.5 Z" fill="#17191b"/>
<rect x="436.5" y="91.0" width="4" height="5" fill="#7d8184"/>
<rect x="437.3" y="91.8" width="2.4" height="3.4" fill="#1a1c1e"/>
<rect x="436.5" y="113.0" width="4" height="5" fill="#7d8184"/>
<rect x="437.3" y="113.8" width="2.4" height="3.4" fill="#1a1c1e"/>
<rect x="437.5" y="137" width="3.2" height="17.5" fill="#17191b"/>
<rect x="437.5" y="159" width="3.2" height="17" fill="#17191b"/>
<rect x="437.5" y="181" width="4" height="17" fill="#121416"/>
<rect x="442.0" y="137" width="0.8" height="40" fill="#7c8083"/>
<rect x="446.3" y="57" width="11.5" height="141" fill="#5f6367"/>
<rect x="447.1" y="58.5" width="4.3" height="3.4" fill="#141618"/>
<rect x="452.4" y="58.5" width="4.3" height="3.4" fill="#141618"/>
<rect x="447.1" y="63.0" width="4.3" height="3.4" fill="#141618"/>
<rect x="452.4" y="63.0" width="4.3" height="3.4" fill="#141618"/>
<rect x="447.1" y="67.6" width="4.3" height="3.4" fill="#141618"/>
<rect x="452.4" y="67.6" width="4.3" height="3.4" fill="#141618"/>
<rect x="447.1" y="72.1" width="4.3" height="3.4" fill="#141618"/>
<rect x="452.4" y="72.1" width="4.3" height="3.4" fill="#141618"/>
<rect x="447.1" y="76.7" width="4.3" height="3.4" fill="#141618"/>
<rect x="452.4" y="76.7" width="4.3" height="3.4" fill="#141618"/>
<rect x="447.1" y="81.2" width="4.3" height="3.4" fill="#141618"/>
<rect x="452.4" y="81.2" width="4.3" height="3.4" fill="#141618"/>
<rect x="447.1" y="85.8" width="4.3" height="3.4" fill="#141618"/>
<rect x="452.4" y="85.8" width="4.3" height="3.4" fill="#141618"/>
<rect x="447.1" y="90.3" width="4.3" height="3.4" fill="#141618"/>
<rect x="452.4" y="90.3" width="4.3" height="3.4" fill="#141618"/>
<rect x="447.1" y="94.9" width="4.3" height="3.4" fill="#141618"/>
<rect x="452.4" y="94.9" width="4.3" height="3.4" fill="#141618"/>
<rect x="447.1" y="99.4" width="4.3" height="3.4" fill="#141618"/>
<rect x="452.4" y="99.4" width="4.3" height="3.4" fill="#141618"/>
<rect x="447.1" y="104.0" width="4.3" height="3.4" fill="#141618"/>
<rect x="452.4" y="104.0" width="4.3" height="3.4" fill="#141618"/>
<rect x="447.1" y="108.5" width="4.3" height="3.4" fill="#141618"/>
<rect x="452.4" y="108.5" width="4.3" height="3.4" fill="#141618"/>
<rect x="447.1" y="113.1" width="4.3" height="3.4" fill="#141618"/>
<rect x="452.4" y="113.1" width="4.3" height="3.4" fill="#141618"/>
<rect x="447.1" y="117.6" width="4.3" height="3.4" fill="#141618"/>
<rect x="452.4" y="117.6" width="4.3" height="3.4" fill="#141618"/>
<rect x="447.1" y="122.2" width="4.3" height="3.4" fill="#141618"/>
<rect x="452.4" y="122.2" width="4.3" height="3.4" fill="#141618"/>
<rect x="447.1" y="126.7" width="4.3" height="3.4" fill="#141618"/>
<rect x="452.4" y="126.7" width="4.3" height="3.4" fill="#141618"/>
<rect x="447.1" y="131.3" width="4.3" height="3.4" fill="#141618"/>
<rect x="452.4" y="131.3" width="4.3" height="3.4" fill="#141618"/>
<rect x="447.1" y="135.8" width="4.3" height="3.4" fill="#141618"/>
<rect x="452.4" y="135.8" width="4.3" height="3.4" fill="#141618"/>
<rect x="447.1" y="140.4" width="4.3" height="3.4" fill="#141618"/>
<rect x="452.4" y="140.4" width="4.3" height="3.4" fill="#141618"/>
<rect x="447.1" y="144.9" width="4.3" height="3.4" fill="#141618"/>
<rect x="452.4" y="144.9" width="4.3" height="3.4" fill="#141618"/>
<rect x="447.1" y="149.5" width="4.3" height="3.4" fill="#141618"/>
<rect x="452.4" y="149.5" width="4.3" height="3.4" fill="#141618"/>
<rect x="447.1" y="154.1" width="4.3" height="3.4" fill="#141618"/>
<rect x="452.4" y="154.1" width="4.3" height="3.4" fill="#141618"/>
<rect x="447.1" y="158.6" width="4.3" height="3.4" fill="#141618"/>
<rect x="452.4" y="158.6" width="4.3" height="3.4" fill="#141618"/>
<rect x="447.1" y="163.2" width="4.3" height="3.4" fill="#141618"/>
<rect x="452.4" y="163.2" width="4.3" height="3.4" fill="#141618"/>
<rect x="447.1" y="167.7" width="4.3" height="3.4" fill="#141618"/>
<rect x="452.4" y="167.7" width="4.3" height="3.4" fill="#141618"/>
<rect x="447.1" y="172.3" width="4.3" height="3.4" fill="#141618"/>
<rect x="452.4" y="172.3" width="4.3" height="3.4" fill="#141618"/>
<rect x="447.1" y="176.8" width="4.3" height="3.4" fill="#141618"/>
<rect x="452.4" y="176.8" width="4.3" height="3.4" fill="#141618"/>
<rect x="447.1" y="181.4" width="4.3" height="3.4" fill="#141618"/>
<rect x="452.4" y="181.4" width="4.3" height="3.4" fill="#141618"/>
<rect x="447.1" y="185.9" width="4.3" height="3.4" fill="#141618"/>
<rect x="452.4" y="185.9" width="4.3" height="3.4" fill="#141618"/>
<rect x="447.1" y="190.5" width="4.3" height="3.4" fill="#141618"/>
<rect x="452.4" y="190.5" width="4.3" height="3.4" fill="#141618"/>
<rect x="447.1" y="195.0" width="4.3" height="3.4" fill="#141618"/>
<rect x="452.4" y="195.0" width="4.3" height="3.4" fill="#141618"/>
<rect x="357.0" y="121" width="11" height="14" fill="#303336"/>
<circle cx="359.9" cy="125.0" r="2.3" fill="#17191b"/>
<circle cx="359.3" cy="124.2" r="0.9" fill="#7e8286"/>
<circle cx="364.4" cy="131.0" r="2.3" fill="#17191b"/>
<circle cx="363.8" cy="130.2" r="0.9" fill="#7e8286"/>
<rect x="370.0" y="121" width="11" height="14" fill="#303336"/>
<circle cx="372.9" cy="125.0" r="2.3" fill="#17191b"/>
<circle cx="372.3" cy="124.2" r="0.9" fill="#7e8286"/>
<circle cx="377.4" cy="131.0" r="2.3" fill="#17191b"/>
<circle cx="376.8" cy="130.2" r="0.9" fill="#7e8286"/>
<rect x="382.7" y="121" width="11" height="14" fill="#303336"/>
<circle cx="385.6" cy="125.0" r="2.3" fill="#17191b"/>
<circle cx="385.0" cy="124.2" r="0.9" fill="#7e8286"/>
<circle cx="390.1" cy="131.0" r="2.3" fill="#17191b"/>
<circle cx="389.5" cy="130.2" r="0.9" fill="#7e8286"/>
<rect x="395.3" y="121" width="11" height="14" fill="#303336"/>
<circle cx="398.2" cy="125.0" r="2.3" fill="#17191b"/>
<circle cx="397.6" cy="124.2" r="0.9" fill="#7e8286"/>
<circle cx="402.7" cy="131.0" r="2.3" fill="#17191b"/>
<circle cx="402.1" cy="130.2" r="0.9" fill="#7e8286"/>
<rect x="459.4" y="121" width="11" height="14" fill="#303336"/>
<circle cx="462.3" cy="125.0" r="2.3" fill="#17191b"/>
<circle cx="461.7" cy="124.2" r="0.9" fill="#7e8286"/>
<circle cx="466.8" cy="131.0" r="2.3" fill="#17191b"/>
<circle cx="466.2" cy="130.2" r="0.9" fill="#7e8286"/>
<rect x="472.5" y="121" width="11" height="14" fill="#303336"/>
<circle cx="475.4" cy="125.0" r="2.3" fill="#17191b"/>
<circle cx="474.8" cy="124.2" r="0.9" fill="#7e8286"/>
<circle cx="479.9" cy="131.0" r="2.3" fill="#17191b"/>
<circle cx="479.3" cy="130.2" r="0.9" fill="#7e8286"/>
<rect x="485.9" y="121" width="11" height="14" fill="#303336"/>
<circle cx="488.8" cy="125.0" r="2.3" fill="#17191b"/>
<circle cx="488.2" cy="124.2" r="0.9" fill="#7e8286"/>
<circle cx="493.3" cy="131.0" r="2.3" fill="#17191b"/>
<circle cx="492.7" cy="130.2" r="0.9" fill="#7e8286"/>
<rect x="499.4" y="121" width="11" height="14" fill="#303336"/>
<circle cx="502.3" cy="125.0" r="2.3" fill="#17191b"/>
<circle cx="501.7" cy="124.2" r="0.9" fill="#7e8286"/>
<circle cx="506.8" cy="131.0" r="2.3" fill="#17191b"/>
<circle cx="506.2" cy="130.2" r="0.9" fill="#7e8286"/>
<rect x="407.9" y="121" width="11" height="14" fill="#303336"/>
<circle cx="410.8" cy="125.0" r="2.3" fill="#17191b"/>
<circle cx="410.2" cy="124.2" r="0.9" fill="#7e8286"/>
<circle cx="415.3" cy="131.0" r="2.3" fill="#17191b"/>
<circle cx="414.7" cy="130.2" r="0.9" fill="#7e8286"/>
<rect x="355" y="196" width="159" height="16" fill="#3b3e41"/>
<path d="M346.5,211 L357,199.5 L361,199.5 L361,203 L351,212.5 Z" fill="#151719"/>
<path d="M359.9,212 L364.9,200 L368.9,200 L364.4,212 Z" fill="#141618"/>
<rect x="361.9" y="209.5" width="5" height="1.3" fill="#8a8e92"/>
<circle cx="359.9" cy="199" r="1.7" fill="#1a1c1e"/>
<path d="M372.9,212 L377.9,200 L381.9,200 L377.4,212 Z" fill="#141618"/>
<rect x="374.9" y="209.5" width="5" height="1.3" fill="#8a8e92"/>
<circle cx="372.9" cy="199" r="1.7" fill="#1a1c1e"/>
<path d="M385.6,212 L390.6,200 L394.6,200 L390.1,212 Z" fill="#141618"/>
<rect x="387.6" y="209.5" width="5" height="1.3" fill="#8a8e92"/>
<circle cx="385.6" cy="199" r="1.7" fill="#1a1c1e"/>
<path d="M398.2,212 L403.2,200 L407.2,200 L402.7,212 Z" fill="#141618"/>
<rect x="400.2" y="209.5" width="5" height="1.3" fill="#8a8e92"/>
<circle cx="398.2" cy="199" r="1.7" fill="#1a1c1e"/>
<path d="M410.8,212 L415.8,200 L419.8,200 L415.3,212 Z" fill="#141618"/>
<rect x="412.8" y="209.5" width="5" height="1.3" fill="#8a8e92"/>
<circle cx="410.8" cy="199" r="1.7" fill="#1a1c1e"/>
<path d="M423.8,212 L428.8,200 L432.8,200 L428.3,212 Z" fill="#141618"/>
<rect x="425.8" y="209.5" width="5" height="1.3" fill="#8a8e92"/>
<circle cx="423.8" cy="199" r="1.7" fill="#1a1c1e"/>
<path d="M436.5,212 L441.5,200 L445.5,200 L441.0,212 Z" fill="#141618"/>
<rect x="438.5" y="209.5" width="5" height="1.3" fill="#8a8e92"/>
<circle cx="436.5" cy="199" r="1.7" fill="#1a1c1e"/>
<path d="M449.3,212 L454.3,200 L458.3,200 L453.8,212 Z" fill="#141618"/>
<rect x="451.3" y="209.5" width="5" height="1.3" fill="#8a8e92"/>
<circle cx="449.3" cy="199" r="1.7" fill="#1a1c1e"/>
<path d="M462.3,212 L467.3,200 L471.3,200 L466.8,212 Z" fill="#141618"/>
<rect x="464.3" y="209.5" width="5" height="1.3" fill="#8a8e92"/>
<circle cx="462.3" cy="199" r="1.7" fill="#1a1c1e"/>
<path d="M475.4,212 L480.4,200 L484.4,200 L479.9,212 Z" fill="#141618"/>
<rect x="477.4" y="209.5" width="5" height="1.3" fill="#8a8e92"/>
<circle cx="475.4" cy="199" r="1.7" fill="#1a1c1e"/>
<path d="M488.8,212 L493.8,200 L497.8,200 L493.3,212 Z" fill="#141618"/>
<rect x="490.8" y="209.5" width="5" height="1.3" fill="#8a8e92"/>
<circle cx="488.8" cy="199" r="1.7" fill="#1a1c1e"/>
<path d="M502.3,212 L507.3,200 L511.3,200 L506.8,212 Z" fill="#141618"/>
<rect x="504.3" y="209.5" width="5" height="1.3" fill="#8a8e92"/>
<circle cx="502.3" cy="199" r="1.7" fill="#1a1c1e"/>
<polygon points="355,211 514,212.5 514,262 357,252" fill="#4a4d50"/>
<polygon points="360.5,213 510,214.5 510,258 361.5,250.5" fill="url(#hex)"/>
<circle cx="370" cy="251" r="1.3" fill="#8a8e91"/>
<circle cx="505" cy="258" r="1.3" fill="#8a8e91"/>

<!-- COMPUTER ICON -->
<path d="M51,190 L51,172.5 C51,169 53,168 58,167.8 L79,167.2 L100,175.5 L100,190 Z" fill="url(#capG)"/>
<path d="M76,167.3 L79,167.2 L100,175.5 L100,181 L80,178 Z" fill="#f2f2f2"/>
<path d="M66,179 L70,179.3 L68,251 L61.5,251 Z" fill="#f4f6fa"/>
<path d="M69.5,179.3 L100,181 L100,232 L97.5,236 L78,251 L67.5,251 Z" fill="url(#towB)"/>
<g stroke="#e9eef8" stroke-width="2" fill="none" stroke-linecap="round">
<path d="M66.5,186.8 L98.8,186.3"/>
<path d="M66.2,193.3 L98.8,192.3"/>
<path d="M65.9,199.8 L98.7,198.3"/>
<path d="M65.6,206.3 L98.6,204.2"/>
<path d="M65.3,212.9 L98.5,210.0"/>
<path d="M65,219.5 L98.4,215.8"/>
<path d="M64.7,226.1 L98.3,221.6"/>
<path d="M64.4,232.7 L98.2,227.4"/>
<path d="M64.1,239.3 L97.5,233.0"/>
<path d="M63.8,245.8 L88,240.5"/>
</g>
<g stroke="#0c2266" stroke-width="0.9" fill="none" stroke-opacity="0.7">
<path d="M66.5,188.4 L98.8,187.9"/>
<path d="M66.2,194.9 L98.8,193.9"/>
<path d="M65.9,201.4 L98.7,199.9"/>
<path d="M65.6,207.9 L98.6,205.8"/>
<path d="M65.3,214.5 L98.5,211.6"/>
<path d="M65,221.1 L98.4,217.4"/>
<path d="M64.7,227.7 L98.3,223.2"/>
<path d="M64.4,234.3 L98.2,229.0"/>
<path d="M64.1,240.9 L97.5,234.6"/>
</g>
<path d="M99.5,231 L99.5,235.5 L81,257 L60.5,257 L61.5,251 L78,251 Z" fill="#eeeeee"/>
<path d="M99.5,235.5 L81,257 L79.5,258.5 L99.5,237.5 Z" fill="#c8c8c8"/>
<path d="M60.5,257 L81,257 L80,258.8 L61,258.8 Z" fill="#b4b4b4"/>
<path d="M31,239 L49,242 L50.5,254 L33,253 Z" fill="#5a5c5e"/>
<path d="M33,246 L49.5,248 L50.5,254 L34,253 Z" fill="#9c9ea0"/>
<path d="M40,249 L49.5,250 L50.5,254 L41,253.5 Z" fill="#c4c6c8"/>
<ellipse cx="33.7" cy="259.6" rx="18.8" ry="8" fill="#9a9a9a"/>
<ellipse cx="33.7" cy="258.3" rx="18.6" ry="7.9" fill="url(#baseG)"/>
<polygon points="9.5,191 66.2,180.9 62.6,245 4.4,233.3" fill="#f6f6f8" stroke="#aeb2ba" stroke-width="0.7"/>
<polygon points="12,193.6 64.2,183.3 60,242.4 6.4,231.8" fill="#1b2560"/>
<g clip-path="url(#scr)">
<rect x="0" y="180" width="70" height="70" fill="url(#scrTop)"/>
<path d="M26,212 C34,210 38,205 44,199 C49,194 56,192 66,191 L66,220 L26,216 Z" fill="#14237c"/>
<path d="M0,213.5 C15,212.5 25,211 32,211.5 C45,212.5 55,214 70,216 L70,250 L0,250 Z" fill="url(#scrCy)"/>
</g>

<!-- WATERMARKS -->
<g font-family="Liberation Sans, sans-serif" font-size="16.5" fill="#d4d4d4" stroke="#d4d4d4" stroke-width="0.35" fill-opacity="0.92" stroke-opacity="0.92">
<text x="45" y="154" transform="rotate(-22 45 154)">ipcisco.com</text>
<text x="117.5" y="351" transform="rotate(-22 117.5 351)">ipcisco.com</text>
<text x="466" y="292" transform="rotate(-22 466 292)">ipcisco.com</text>
</g>
</svg>
</body></html>
